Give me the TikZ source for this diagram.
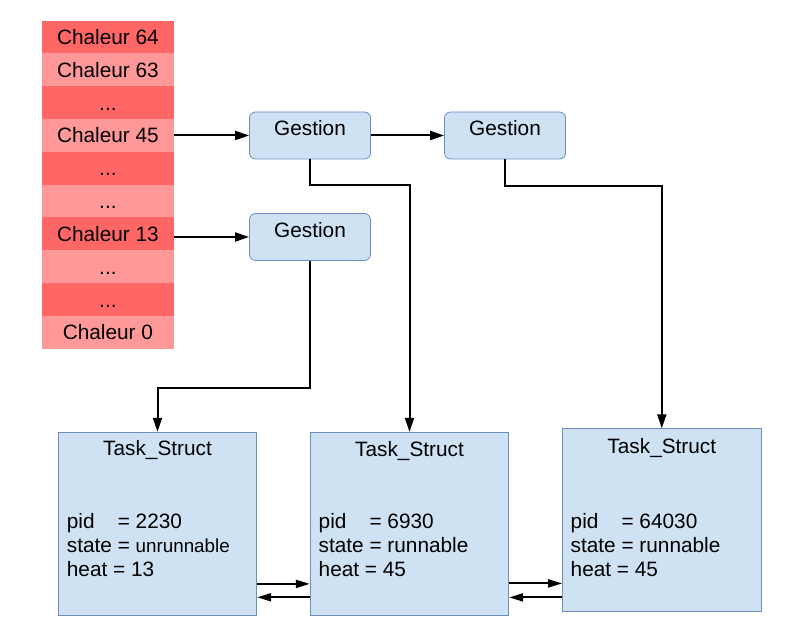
\documentclass[tikz,border=0pt]{standalone}
\usepackage{fontspec}
\setmainfont{Liberation Sans}
\usetikzlibrary{arrows.meta,calc}
\definecolor{heatdark}{HTML}{FF6666}
\definecolor{heatlight}{HTML}{FF9999}
\definecolor{boxfill}{HTML}{CFE2F3}
\definecolor{boxline}{HTML}{6C8EBF}
\begin{document}
\begin{tikzpicture}[x=1pt,y=-1pt,
  heatrow/.style={rectangle,inner sep=0pt,minimum width=131.4pt,minimum height=32.8pt,
    text height=15pt,text depth=0pt,font=\fontsize{20.8}{24}\selectfont},
  dk/.style={heatrow,fill=heatdark},
  lt/.style={heatrow,fill=heatlight},
  gestbox/.style={rectangle,rounded corners=6pt,draw=boxline,line width=0.8pt,fill=boxfill,
    inner sep=0pt,minimum width=121pt,text height=24pt,text depth=23pt,
    font=\fontsize{20.8}{24}\selectfont},
  taskbox/.style={rectangle,draw=boxline,line width=0.8pt,fill=boxfill,inner sep=0pt,
    minimum width=198.5pt,minimum height=183pt},
  tasktitle/.style={anchor=base,inner sep=0pt,font=\fontsize{20.8}{24}\selectfont},
  taskbody/.style={anchor=north west,inner sep=0pt,align=left,font=\fontsize{20.8}{24}\selectfont},
  arr/.style={line width=2pt,-{Triangle[length=14pt,width=9pt]}},
  arrs/.style={line width=2pt,-{Triangle[length=14pt,width=8pt]}}]
\useasboundingbox (0,0) rectangle (792,644);
% heat list
\node[dk] (c64) at (107.9,37.1) {Chaleur 64};
\node[lt] (c63) at (107.9,69.9) {Chaleur 63};
\node[dk] (d1)  at (107.9,102.7) {...};
\node[lt] (c45) at (107.9,135.5) {Chaleur 45};
\node[dk] (d2)  at (107.9,168.3) {...};
\node[lt] (d3)  at (107.9,201.1) {...};
\node[dk] (c13) at (107.9,233.9) {Chaleur 13};
\node[lt] (d4)  at (107.9,266.7) {...};
\node[dk] (d5)  at (107.9,299.5) {...};
\node[lt] (c0)  at (107.9,332.3) {Chaleur 0};
% gestion boxes
\node[gestbox] (g1) at (310,135.5) {Gestion};
\node[gestbox] (g2) at (505,135.5) {Gestion};
\node[gestbox] (g3) at (310,237) {Gestion};
% task structs
\node[taskbox] (t1) at (157.5,523.7) {};
\node[taskbox] (t2) at (409.5,523.8) {};
\node[taskbox] (t3) at (661.8,520.2) {};
\node[tasktitle] (t1t) at ($(t1.north)+(0,24)$) {Task\_Struct};
\node[tasktitle] (t2t) at ($(t2.north)+(0,24.7)$) {Task\_Struct};
\node[tasktitle] (t3t) at ($(t3.north)+(0,25)$) {Task\_Struct};
\node[taskbody] (t1b) at (66.7,513.5) {\rlap{pid}\phantom{state} = 2230\\state = {\fontsize{18.8}{24}\selectfont unrunnable}\\heat = 13};
\node[taskbody] (t2b) at (318.5,513.5) {\rlap{pid}\phantom{state} = 6930\\state = runnable\\heat = 45};
\node[taskbody] (t3b) at (570.5,513.5) {\rlap{pid}\phantom{state} = 64030\\state = runnable\\heat = 45};
% connectors
\draw[arr] (c45.east) -- (g1.west);
\draw[arr] (c13.east |- g3.west) -- (g3.west);
\draw[arr] (g1.east) -- (g2.west);
\draw[arr] (g1.south) -- ++(0,26) -| (t2.north);
\draw[arr] (g2.south) -- ++(0,27) -| (t3.north);
\draw[arr] (g3.south) -- ++(0,127) -| (t1.north);
\coordinate (a1) at ($(t1.south east)+(0,-31.7)$);
\coordinate (a2) at ($(t1.south east)+(0,-18.3)$);
\coordinate (a3) at ($(t2.south east)+(0,-32.3)$);
\coordinate (a4) at ($(t2.south east)+(0,-18.3)$);
\draw[arrs] (a1) -- (a1 -| t2.west);
\draw[arrs] (a2 -| t2.west) -- (a2);
\draw[arrs] (a3) -- (a3 -| t3.west);
\draw[arrs] (a4 -| t3.west) -- (a4);
\end{tikzpicture}
\end{document}
